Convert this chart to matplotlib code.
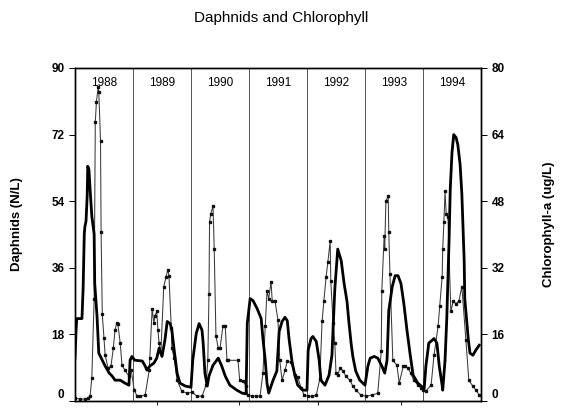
import matplotlib
matplotlib.use("Agg")
import matplotlib.pyplot as plt

plt.rcParams['font.family'] = ['Liberation Sans', 'DejaVu Sans']

years = [1988, 1989, 1990, 1991, 1992, 1993, 1994]

daph_t = [1988.00, 1988.09, 1988.17, 1988.22, 1988.26, 1988.29, 1988.33, 1988.35, 1988.37, 1988.40,
          1988.41, 1988.44, 1988.45, 1988.47, 1988.50, 1988.52, 1988.57, 1988.62, 1988.66, 1988.69,
          1988.72, 1988.74, 1988.78, 1988.81, 1988.86, 1988.93, 1988.97, 1989.02, 1989.07, 1989.12,
          1989.21, 1989.28, 1989.29, 1989.33, 1989.36, 1989.38, 1989.41, 1989.43, 1989.45, 1989.48,
          1989.53, 1989.57, 1989.60, 1989.62, 1989.66, 1989.67, 1989.71, 1989.76, 1989.84, 1989.93,
          1990.02, 1990.10, 1990.19, 1990.26, 1990.29, 1990.31, 1990.32, 1990.34, 1990.38, 1990.40,
          1990.43, 1990.47, 1990.50, 1990.55, 1990.59, 1990.62, 1990.64, 1990.81, 1990.84, 1990.90,
          1990.95, 1990.98, 1991.05, 1991.12, 1991.19, 1991.24, 1991.28, 1991.31, 1991.34, 1991.38,
          1991.40, 1991.45, 1991.50, 1991.53, 1991.57, 1991.62, 1991.66, 1991.72, 1991.79, 1991.84,
          1991.90, 1991.95, 1992.02, 1992.09, 1992.16, 1992.22, 1992.26, 1992.29, 1992.33, 1992.36,
          1992.40, 1992.41, 1992.45, 1992.48, 1992.50, 1992.53, 1992.57, 1992.62, 1992.67, 1992.74,
          1992.79, 1992.84, 1992.93, 1993.02, 1993.12, 1993.22, 1993.28, 1993.29, 1993.33, 1993.34,
          1993.36, 1993.40, 1993.41, 1993.43, 1993.48, 1993.55, 1993.59, 1993.66, 1993.69, 1993.74,
          1993.79, 1993.84, 1993.91, 1993.97, 1994.00, 1994.05, 1994.14, 1994.19, 1994.26, 1994.29,
          1994.33, 1994.34, 1994.36, 1994.38, 1994.40, 1994.43, 1994.48, 1994.52, 1994.57, 1994.62,
          1994.67, 1994.74, 1994.79, 1994.86, 1994.91, 1994.97]
daph_v = [0.8, 0.5, 0.5, 0.8, 1.3, 6.2, 27.7, 75.5, 80.9, 84.9,
          83.6, 70.4, 45.7, 23.6, 16.9, 12.4, 8.9, 9.4, 14.2, 19.1,
          21.2, 20.7, 15.6, 9.7, 8.3, 6.7, 8.3, 3.0, 1.3, 1.3,
          1.6, 8.3, 11.6, 25.0, 21.0, 23.1, 24.2, 19.1, 15.6, 12.9,
          30.9, 33.6, 35.5, 33.9, 19.6, 14.2, 11.6, 5.6, 2.7, 2.1,
          2.4, 1.3, 1.3, 4.3, 11.0, 29.0, 48.4, 50.5, 52.7, 41.1,
          17.7, 14.2, 14.2, 20.2, 20.4, 11.0, 11.0, 11.0, 5.6, 5.4,
          4.0, 1.6, 1.3, 1.3, 1.3, 7.5, 20.2, 29.6, 27.7, 32.2,
          27.1, 26.9, 21.8, 11.0, 5.6, 8.3, 10.7, 10.5, 7.0, 6.4,
          3.5, 1.6, 1.3, 1.3, 1.6, 5.9, 21.5, 26.9, 33.6, 37.6,
          43.3, 32.5, 21.0, 15.6, 7.5, 7.0, 8.9, 8.1, 6.7, 5.6,
          4.0, 3.0, 1.6, 1.3, 1.6, 2.1, 13.4, 29.8, 44.6, 41.1,
          54.0, 55.4, 45.7, 34.4, 11.0, 9.7, 4.8, 9.4, 9.4, 8.9,
          7.5, 5.6, 4.3, 3.5, 3.0, 2.7, 4.3, 12.4, 20.2, 25.8,
          33.6, 41.1, 48.4, 56.7, 50.5, 49.7, 24.2, 26.9, 26.3, 27.1,
          30.9, 16.4, 5.6, 4.0, 3.0, 1.6]

chl_t = [1988.00, 1988.02, 1988.03, 1988.12, 1988.14, 1988.16, 1988.17, 1988.19, 1988.21, 1988.22,
         1988.24, 1988.26, 1988.29, 1988.33, 1988.34, 1988.38, 1988.41, 1988.47, 1988.52, 1988.59,
         1988.64, 1988.69, 1988.78, 1988.86, 1988.93, 1988.95, 1988.98, 1989.03, 1989.16, 1989.21,
         1989.24, 1989.29, 1989.36, 1989.41, 1989.45, 1989.50, 1989.55, 1989.59, 1989.64, 1989.67,
         1989.71, 1989.76, 1989.81, 1989.90, 1990.00, 1990.03, 1990.09, 1990.14, 1990.19, 1990.21,
         1990.24, 1990.28, 1990.31, 1990.38, 1990.47, 1990.53, 1990.59, 1990.67, 1990.79, 1990.88,
         1990.95, 1990.97, 1991.02, 1991.07, 1991.14, 1991.21, 1991.24, 1991.28, 1991.31, 1991.34,
         1991.41, 1991.48, 1991.52, 1991.57, 1991.62, 1991.66, 1991.69, 1991.74, 1991.79, 1991.84,
         1991.93, 1992.00, 1992.02, 1992.07, 1992.10, 1992.16, 1992.21, 1992.24, 1992.31, 1992.38,
         1992.43, 1992.48, 1992.53, 1992.59, 1992.64, 1992.69, 1992.72, 1992.76, 1992.79, 1992.84,
         1992.91, 1993.00, 1993.05, 1993.09, 1993.16, 1993.22, 1993.29, 1993.34, 1993.38, 1993.41,
         1993.47, 1993.52, 1993.57, 1993.62, 1993.67, 1993.72, 1993.78, 1993.83, 1993.91, 1993.97,
         1994.02, 1994.05, 1994.10, 1994.19, 1994.24, 1994.28, 1994.33, 1994.34, 1994.38, 1994.41,
         1994.45, 1994.47, 1994.50, 1994.53, 1994.57, 1994.60, 1994.64, 1994.67, 1994.69, 1994.71,
         1994.72, 1994.78, 1994.81, 1994.86, 1994.91, 1994.97]
chl_v = [10.3, 17.4, 19.8, 19.8, 27.0, 40.1, 41.8, 43.2, 49.2, 56.4,
         55.6, 50.9, 44.4, 40.1, 28.2, 20.3, 11.5, 9.8, 8.4, 6.7,
         6.0, 5.0, 5.0, 4.3, 3.8, 9.8, 10.7, 9.8, 9.6, 8.4,
         7.4, 8.4, 9.1, 10.3, 12.7, 10.7, 14.6, 19.1, 18.6, 17.0,
         12.2, 6.7, 4.3, 3.6, 3.3, 9.8, 16.2, 18.6, 17.0, 13.9,
         6.7, 3.6, 6.0, 8.6, 10.3, 8.4, 6.0, 3.8, 2.6, 1.9,
         1.7, 18.6, 24.6, 24.1, 22.2, 19.8, 15.0, 9.8, 4.3, 1.9,
         4.8, 7.2, 16.7, 19.1, 20.1, 19.3, 15.0, 9.6, 6.2, 3.8,
         2.6, 2.6, 12.2, 15.0, 15.5, 14.3, 9.8, 5.0, 3.8, 6.2,
         11.0, 27.0, 36.5, 33.7, 28.2, 23.9, 19.3, 13.9, 10.7, 7.2,
         5.0, 3.8, 8.4, 10.3, 10.7, 10.3, 8.4, 6.7, 9.8, 21.7,
         27.5, 30.1, 30.1, 28.2, 23.4, 17.4, 11.0, 6.2, 4.3, 3.6,
         2.9, 8.4, 13.9, 15.0, 13.9, 8.4, 3.8, 2.6, 9.8, 19.8,
         38.9, 50.9, 59.7, 64.0, 63.3, 61.6, 56.8, 49.7, 41.3, 33.7,
         24.6, 15.0, 11.5, 11.0, 12.2, 13.4]

left_ticks = [0, 18, 36, 54, 72, 90]
right_ticks = [0, 16, 32, 48, 64, 80]
bottom_ticks = [1989.41, 1990.83, 1992.19, 1993.62]

fig = plt.figure(figsize=(5.63, 4.08), dpi=100)
ax = fig.add_axes([75/563, 1 - 401/408, (481-75)/563, (401-68)/408])
ax2 = ax.twinx()

ax.plot(daph_t, daph_v, color='#3a3a3a', lw=0.75, marker='s', ms=1.6,
        mfc='#111111', mec='#111111', zorder=3)
ax2.plot(chl_t, chl_v, color='black', lw=2.0, zorder=4)

ax.set_xlim(1988, 1995)
ax.set_ylim(0, 90)
ax2.set_ylim(0, 80)
ax.set_yticks(left_ticks)
ax2.set_yticks(right_ticks)
ax.set_xticks(bottom_ticks)
ax.set_xticklabels([])
ax.tick_params(axis='x', length=3, width=0.6, direction='out')
ax.tick_params(axis='y', length=4, width=0.7, labelsize=8.5)
ax2.tick_params(axis='y', length=4, width=0.7, labelsize=8.5)
for lab in ax.get_yticklabels() + ax2.get_yticklabels():
    lab.set_fontweight('bold')
ax.get_yticklabels()[0].set_va('bottom')
ax2.get_yticklabels()[0].set_va('bottom')

for y in years[1:]:
    ax.axvline(y, color='#555555', lw=0.7, zorder=1)
for y in years:
    ax.text(y + 0.5, 86, str(y), ha='center', va='center', fontsize=8.5)

for sp in ax.spines.values():
    sp.set_linewidth(1.0)
for sp in ax2.spines.values():
    sp.set_linewidth(1.0)

fig.text(0.5, 0.956, 'Daphnids and Chlorophyll', ha='center', va='center', fontsize=11)
fig.text(0.03, 0.45, 'Daphnids (N/L)', rotation=90, ha='center', va='center',
         fontsize=9.5, fontweight='bold')
fig.text(0.975, 0.45, 'Chlorophyll-a (ug/L)', rotation=90, ha='center', va='center',
         fontsize=9.5, fontweight='bold')

fig.savefig('out.png', dpi=100)
